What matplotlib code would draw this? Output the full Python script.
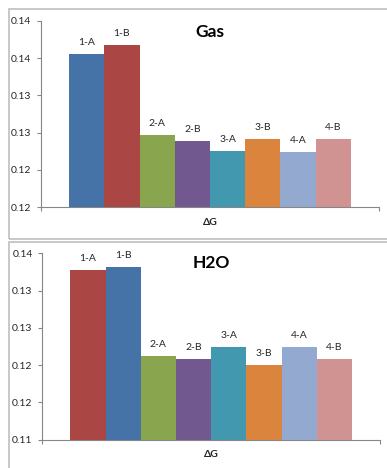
import matplotlib.pyplot as plt
from matplotlib.patches import Rectangle

# Datos
etiquetas = ["1-A", "1-B", "2-A", "2-B", "3-A", "3-B", "4-A", "4-B"]
gas = [0.1356, 0.1367, 0.1247, 0.1239, 0.1225, 0.1241, 0.1224, 0.1241]
h2o = [0.1328, 0.1332, 0.1212, 0.1208, 0.1224, 0.1200, 0.1224, 0.1208]

gas_ticks = [0.115, 0.12, 0.125, 0.13, 0.135, 0.14]
gas_tick_labels = ["0.12", "0.12", "0.13", "0.13", "0.14", "0.14"]
h2o_ticks = [0.11, 0.115, 0.12, 0.125, 0.13, 0.135]
h2o_tick_labels = ["0.11", "0.12", "0.12", "0.13", "0.13", "0.14"]

colores_gas = ["#4572A7", "#AA4643", "#89A54E", "#71588F",
               "#4198AF", "#DB843D", "#93A9CF", "#D19392"]
colores_h2o = ["#AA4643", "#4572A7", "#89A54E", "#71588F",
               "#4198AF", "#DB843D", "#93A9CF", "#D19392"]

plt.rcParams['font.family'] = ['Lato', 'DejaVu Sans']

fig = plt.figure(figsize=(3.87, 4.68), dpi=100)
W, H = 387, 468

def px(x0, y0, x1, y1):
    # convierte pixeles (origen arriba-izquierda) a fracciones de figura
    return [x0 / W, 1 - y1 / H, (x1 - x0) / W, (y1 - y0) / H]

# marcos de los graficos
for (x0, y0, x1, y1) in [(8.5, 9, 392, 239), (8.5, 242, 392, 475)]:
    fig.patches.append(Rectangle((x0 / W, 1 - y1 / H), (x1 - x0) / W, (y1 - y0) / H,
                                 transform=fig.transFigure, fill=False,
                                 edgecolor="#bfbfbf", linewidth=1.2))

def panel(rect, valores, colores, ticks, tick_labels, titulo, titulo_y):
    ax = fig.add_axes(rect)
    x = list(range(len(valores)))
    ax.bar(x, valores, width=1.0, color=colores, bottom=0)
    for xi, v, lab in zip(x, valores, etiquetas):
        ax.annotate(lab, (xi, v), xytext=(0, 5), textcoords="offset points",
                    ha="center", va="bottom", fontsize=7.5, color="#262626")
    ax.set_xlim(-1.3, 8.3)
    ax.set_ylim(ticks[0], ticks[-1])
    ax.set_yticks(ticks)
    ax.set_yticklabels(tick_labels, fontsize=7.5, color="#262626")
    ax.set_xticks([-1.3, 8.3])
    ax.set_xticklabels([])
    ax.tick_params(axis="y", length=3, color="#868686", pad=4)
    ax.tick_params(axis="x", length=3, color="#868686")
    for s in ["top", "right"]:
        ax.spines[s].set_visible(False)
    for s in ["left", "bottom"]:
        ax.spines[s].set_color("#868686")
        ax.spines[s].set_linewidth(0.8)
    ax.set_xlabel("ΔG", fontsize=7.5, fontweight="bold", labelpad=1, color="#262626")
    ax.text(0.5, titulo_y, titulo, transform=ax.transAxes, ha="center", va="center",
            fontsize=12.5, fontweight="bold", color="black")
    return ax

panel(px(41, 20.7, 379, 207.3), gas, colores_gas, gas_ticks, gas_tick_labels, "Gas", 0.94)
panel(px(42.3, 253.3, 380, 439.7), h2o, colores_h2o, h2o_ticks, h2o_tick_labels, "H2O", 0.95)

fig.savefig("out.png", dpi=100)
